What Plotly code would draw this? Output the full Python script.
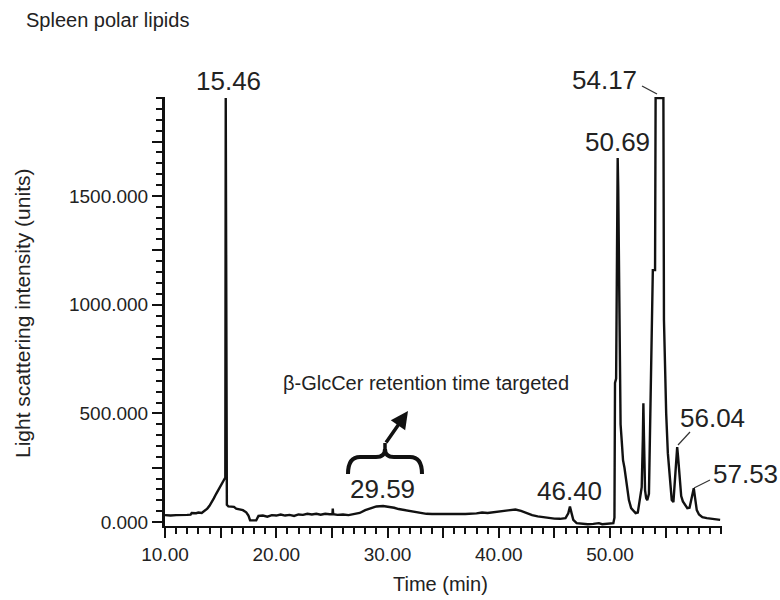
import plotly.graph_objects as go

# ---------------- data ----------------
time_min = [
    10.0, 10.5, 11.0, 11.5, 12.0, 12.3, 12.4, 12.8, 13.0, 13.3, 13.5, 13.8, 14.0, 14.2,
    14.4, 14.6, 14.8, 15.0, 15.2, 15.35, 15.42, 15.46, 15.50, 15.53, 15.56, 15.7, 16.2,
    16.4, 16.6, 17.0, 17.3, 17.5, 17.65, 18.2, 18.4, 18.8, 19.2, 19.6, 20.0, 20.4, 20.8,
    21.2, 21.6, 22.0, 22.4, 22.8, 23.2, 23.6, 24.0, 24.4, 24.8, 25.05, 25.08, 25.12,
    25.5, 26.0, 26.5, 27.0, 27.5, 28.0, 28.5, 29.0, 29.6, 30.2, 30.6, 31.0, 31.5, 32.0,
    32.5, 33.0, 33.5, 34.0, 35.0, 36.0, 37.0, 38.0, 38.5, 39.0, 39.5, 40.0, 40.5, 41.0,
    41.5, 42.0, 42.3, 42.7, 43.0, 43.5, 44.0, 44.5, 45.0, 45.5, 46.0, 46.25, 46.40,
    46.55, 46.7, 47.0, 47.5, 48.0, 48.5, 49.0, 49.3, 49.6, 50.0, 50.3, 50.40, 50.45,
    50.55, 50.62, 50.69, 50.74, 50.80, 50.88, 50.95, 51.05, 51.17, 51.30, 51.45, 51.55,
    51.70, 51.90, 52.10, 52.30, 52.50, 52.70, 52.85, 52.95, 53.00, 53.05, 53.15, 53.25,
    53.35, 53.50, 53.70, 53.85, 54.05, 54.10, 54.17, 54.80, 54.85, 54.95, 55.05, 55.20,
    55.40, 55.55, 55.70, 55.85, 55.95, 56.04, 56.12, 56.25, 56.40, 56.55, 56.75, 56.95,
    57.15, 57.35, 57.53, 57.65, 57.80, 58.00, 58.30, 58.70, 59.20, 59.90,
]
intensity = [
    32, 30, 32, 31, 33, 34, 42, 41, 44, 42, 50, 62, 75, 90,
    110, 130, 150, 170, 190, 200, 205, 1950, 500, 500, 80, 72, 70,
    62, 60, 55, 45, 30, 8, 8, 28, 30, 25, 32, 30, 35, 30,
    33, 28, 35, 33, 38, 35, 38, 34, 38, 36, 36, 62, 36,
    33, 35, 32, 38, 42, 55, 65, 72, 74, 70, 66, 60, 55, 50,
    46, 42, 38, 37, 36, 36, 37, 40, 44, 42, 45, 48, 50, 55,
    58, 52, 45, 38, 32, 26, 22, 18, 16, 15, 18, 40, 72,
    40, 10, -5, -8, -10, -8, -5, -10, -8, -6, -5, 20, 640,
    660, 1536, 1674, 1536, 1100, 700, 450, 377, 285, 250, 193, 180,
    101, 64, 50, 41, 44, 100, 161, 377, 547, 400, 147, 110,
    101, 130, 640, 1159, 1159, 1950, 1950, 1950, 929, 700, 500, 317,
    200, 101, 92, 200, 300, 345, 300, 200, 120, 95, 80, 64,
    66, 120, 156, 110, 55, 35, 23, 18, 15, 10,
]

peak_labels = ["15.46", "29.59", "46.40", "50.69", "54.17", "56.04", "57.53"]

x_tick_vals = [10, 15, 20, 25, 30, 35, 40, 45, 50, 55]
x_tick_text = ["10.00", "", "20.00", "", "30.00", "", "40.00", "", "50.00", ""]
y_tick_vals = [0, 250, 500, 750, 1000, 1250, 1500, 1750]
y_tick_text = ["0.000", "", "500.000", "", "1000.000", "", "1500.000", ""]

chart_title = "Spleen polar lipids"
x_title = "Time (min)"
y_title = "Light scattering intensity (units)"
note_text = "β-GlcCer retention time targeted"

# ---------------- layout helpers (pixel -> paper) ----------------
W, H = 780, 600
L, R, T, B = 165, 58, 97, 74
PW, PH = W - L - R, H - T - B


def pxx(x):
    return (x - L) / PW


def pxy(y):
    return (H - B - y) / PH


FONT = "Liberation Sans, Arial, sans-serif"
TXT = "#222222"

fig = go.Figure()
fig.add_trace(go.Scatter(
    x=time_min, y=intensity, mode="lines",
    line=dict(color="#111111", width=2.4),
    hoverinfo="skip", showlegend=False,
))

# peak label pixel centres
label_pos = {
    "15.46": (228, 81),
    "29.59": (382, 489),
    "46.40": (569, 491),
    "50.69": (617, 142),
    "54.17": (604, 80),
    "56.04": (712, 418),
    "57.53": (745, 474),
}

annotations = []
for lab in peak_labels:
    x, y = label_pos[lab]
    annotations.append(dict(
        x=pxx(x), y=pxy(y), xref="paper", yref="paper", text=lab,
        showarrow=False, xanchor="center", yanchor="middle",
        font=dict(family=FONT, size=26, color=TXT),
    ))

annotations += [
    dict(x=pxx(24), y=pxy(20), xref="paper", yref="paper", text=chart_title,
         showarrow=False, xanchor="left", yanchor="middle",
         font=dict(family=FONT, size=20, color=TXT)),
    dict(x=pxx(440), y=pxy(584), xref="paper", yref="paper", text=x_title,
         showarrow=False, xanchor="center", yanchor="middle",
         font=dict(family=FONT, size=20, color=TXT)),
    dict(x=pxx(22), y=pxy(314), xref="paper", yref="paper", text=y_title,
         showarrow=False, xanchor="center", yanchor="middle", textangle=-90,
         font=dict(family=FONT, size=21, color=TXT)),
    dict(x=pxx(426), y=pxy(383), xref="paper", yref="paper", text=note_text,
         showarrow=False, xanchor="center", yanchor="middle",
         font=dict(family=FONT, size=20, color=TXT)),
    # arrow from the brace towards the note
    dict(x=pxx(408), y=pxy(411), xref="paper", yref="paper", text="",
         showarrow=True, axref="pixel", ayref="pixel", ax=-23, ay=33,
         arrowhead=2, arrowsize=1.0, arrowwidth=3.5, arrowcolor="#111111"),
]


def P(x, y):
    return f"{pxx(x)},{pxy(y)}"


brace = (f"M {P(348, 474)} Q {P(348, 457)} {P(360, 457)} L {P(376, 457)} "
         f"Q {P(385, 457)} {P(385, 449)} Q {P(385, 457)} {P(394, 457)} "
         f"L {P(410, 457)} Q {P(422, 457)} {P(422, 474)}")

shapes = [
    dict(type="path", path=brace, xref="paper", yref="paper",
         line=dict(color="#111111", width=4)),
    dict(type="line", xref="paper", yref="paper",
         x0=pxx(385), y0=pxy(450), x1=pxx(385), y1=pxy(443),
         line=dict(color="#111111", width=3.5)),
    # leader lines for peak labels
    dict(type="line", xref="paper", yref="paper",
         x0=pxx(642), y0=pxy(86), x1=pxx(657), y1=pxy(94),
         line=dict(color="#333333", width=1.2)),
    dict(type="line", xref="paper", yref="paper",
         x0=pxx(690), y0=pxy(432), x1=pxx(678), y1=pxy(445),
         line=dict(color="#333333", width=1.2)),
    dict(type="line", xref="paper", yref="paper",
         x0=pxx(710), y0=pxy(480), x1=pxx(694), y1=pxy(488),
         line=dict(color="#333333", width=1.2)),
]

fig.update_layout(
    width=W, height=H,
    margin=dict(l=L, r=R, t=T, b=B, autoexpand=False),
    paper_bgcolor="white", plot_bgcolor="white",
    annotations=annotations, shapes=shapes,
    showlegend=False,
)

fig.update_xaxes(
    range=[10, 10 + PW / 11.125], showgrid=False, zeroline=False,
    showline=True, linecolor="#111111", linewidth=2,
    tickmode="array", tickvals=x_tick_vals, ticktext=x_tick_text,
    ticks="outside", ticklen=10, tickwidth=2, tickcolor="#111111",
    tickfont=dict(family=FONT, size=19, color=TXT),
    minor=dict(dtick=1, tick0=10, ticks="outside", ticklen=6, tickwidth=1.5,
               tickcolor="#111111", showgrid=False),
)
fig.update_yaxes(
    range=[-18, 1955], showgrid=False, zeroline=False,
    showline=True, linecolor="#111111", linewidth=3,
    tickmode="array", tickvals=y_tick_vals, ticktext=y_tick_text,
    ticks="outside", ticklen=10, tickwidth=2, tickcolor="#111111",
    tickfont=dict(family=FONT, size=19, color=TXT),
    minor=dict(dtick=50, tick0=0, ticks="outside", ticklen=6, tickwidth=1.5,
               tickcolor="#111111", showgrid=False),
)

fig.write_html("out.html", config={"displayModeBar": False},
               post_script="document.body.style.margin='0px';")
